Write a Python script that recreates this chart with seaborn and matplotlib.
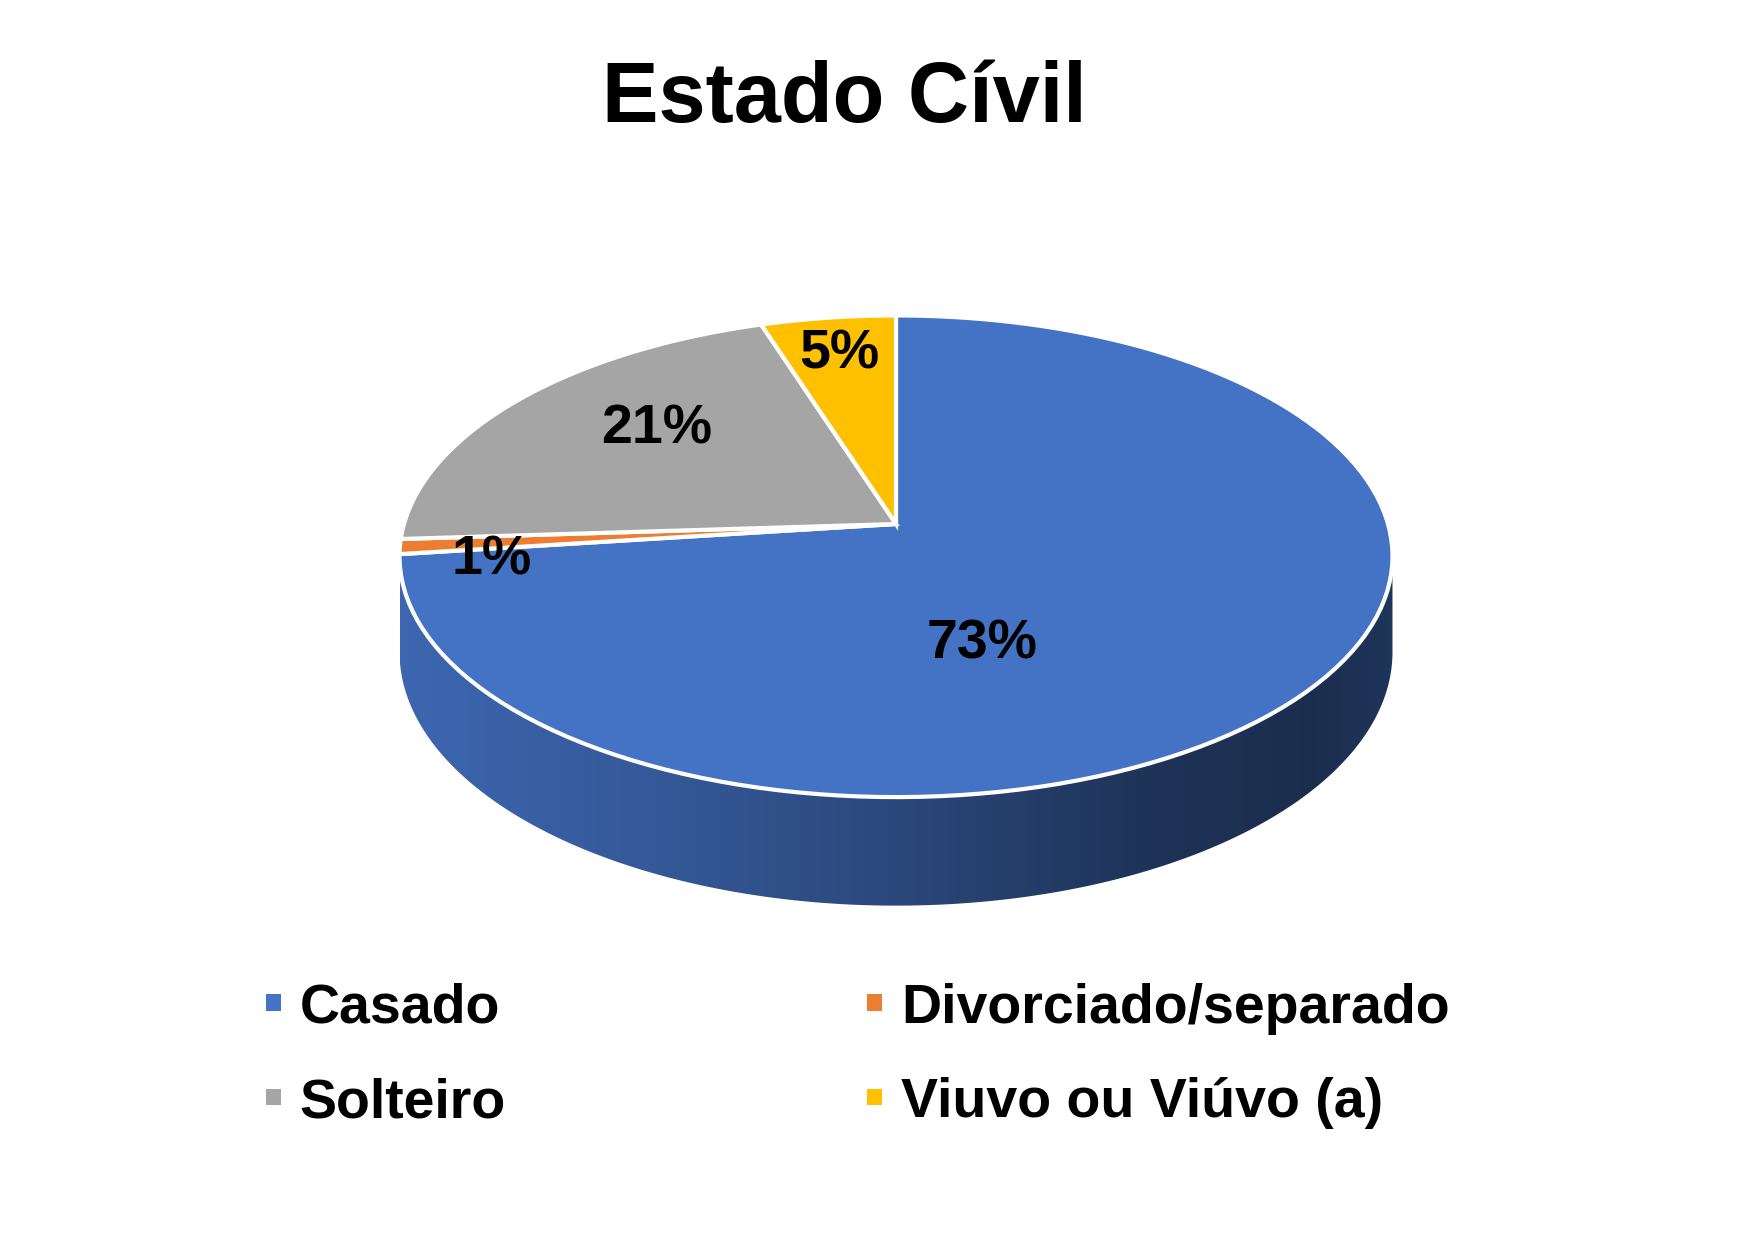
import numpy as np
import matplotlib
matplotlib.use("Agg")
import matplotlib.pyplot as plt
import seaborn as sns
from matplotlib.patches import Polygon, Patch
from matplotlib.colors import to_rgb
from matplotlib.transforms import Transform, Affine2D
from matplotlib.path import Path

# ---- data ----
categories = ["Casado", "Divorciado/separado", "Solteiro", "Viuvo ou Viúvo (a)"]
shares = [73, 1, 21, 5]
colors = ["#4472C4", "#ED7D31", "#A5A5A5", "#FFC000"]
title = "Estado Cívil"

sns.set_theme(style="white")
plt.rcParams["font.family"] = ["Liberation Sans", "DejaVu Sans"]
plt.rcParams["text.color"] = "black"

W, H, DPI = 1749, 1241, 100
fig = plt.figure(figsize=(W / DPI, H / DPI), dpi=DPI)
fig.patch.set_facecolor("white")
ax = fig.add_axes([0, 0, 1, 1])


class PieTilt(Transform):
    """Perspective tilt of the unit pie into pixel coordinates."""
    input_dims = output_dims = 2
    is_separable = False

    def __init__(self, cx, cy, a, s, p):
        super().__init__()
        self.cx, self.cy, self.a, self.s, self.p = cx, cy, a, s, p

    def transform_non_affine(self, values):
        v = np.asarray(values, float).reshape(-1, 2)
        X, Y = v[:, 0], v[:, 1]
        den = 1 + self.p * Y
        return np.column_stack([self.cx + self.a * X / den,
                                self.cy - self.s * Y / den])

    def transform_path_non_affine(self, path):
        k = 1000.0
        polys = path.to_polygons(transform=Affine2D().scale(k), closed_only=True)
        paths = [Path(self.transform_non_affine(np.asarray(pg) / k), closed=True)
                 for pg in polys]
        return Path.make_compound_path(*paths)


# geometry (pixels)
cx, cy, a_px, s_px, p = 896, 524, 492, 236.5, 0.134
depth_px = 94
tilt = PieTilt(cx, cy, a_px, s_px, p)

wedges, texts, autotexts = ax.pie(
    shares, colors=colors, startangle=90, counterclock=False,
    autopct="%1.0f%%", pctdistance=0.6,
    wedgeprops=dict(edgecolor="white", linewidth=3, zorder=3),
    textprops=dict(fontsize=40, fontweight="bold", color="black"))
for w in wedges:
    w.set_transform(tilt + ax.transData)

# side wall (extrusion) of the 3D pie, visible front arc only
tang = np.degrees(np.arcsin(p))
vis_lo, vis_hi = -180 + tang, -tang
x_left = cx - a_px / np.sqrt(1 - p ** 2)
x_right = cx + a_px / np.sqrt(1 - p ** 2)
xs = np.linspace(0, 1, 400)
shade = np.interp(xs, [0, 0.25, 0.5, 0.75, 0.92, 1.0],
                  [0.90, 0.78, 0.63, 0.45, 0.40, 0.46])
for w, c in zip(wedges, colors):
    for shift in (0, 360, -360):
        lo = max(w.theta1 + shift, vis_lo)
        hi = min(w.theta2 + shift, vis_hi)
        if hi <= lo:
            continue
        t = np.radians(np.linspace(lo, hi, 300))
        top = tilt.transform(np.column_stack([np.cos(t), np.sin(t)]))
        den = 1 + p * np.sin(t)
        bot = (top + np.column_stack([np.zeros_like(t), depth_px / den]))[::-1]
        poly = Polygon(np.vstack([top, bot]), closed=True,
                       transform=ax.transData, facecolor="none",
                       edgecolor="none")
        img = np.array(to_rgb(c))[None, None, :] * shade[None, :, None]
        img = np.repeat(img, 2, axis=0)
        im = ax.imshow(img, extent=[x_left, x_right, H, 0], aspect="auto",
                       zorder=1, interpolation="bilinear")
        im.set_clip_path(poly)

# percentage labels (positions in pie coordinates)
label_xy = [(0.163, -0.477), (-0.806, -0.153), (-0.515, 0.424), (-0.128, 0.793)]
for t, xy in zip(autotexts, label_xy):
    t.set_position(xy)
    t.set_transform(tilt + ax.transData)
    t.set_zorder(5)
for t in texts:
    t.set_visible(False)

ax.set_xlim(0, W)
ax.set_ylim(H, 0)
ax.set_aspect("auto")
ax.axis("off")

# title
fig.text(844 / W, 1 - 122 / H, title, ha="center", va="baseline",
         fontsize=61, fontweight="bold", color="black")

# legend
handles = [Patch(facecolor=c, edgecolor="none", label=l)
           for l, c in zip(categories, colors)]
order = [0, 2, 1, 3]
fig.legend([handles[i] for i in order], [categories[i] for i in order],
           ncol=2, loc="center left", bbox_to_anchor=(266 / W, 1 - 1056 / H),
           frameon=False, prop=dict(size=40, weight="bold"), labelcolor="black",
           handlelength=0.27, handleheight=0.07, handletextpad=0.34,
           columnspacing=6.5, labelspacing=0.76, borderpad=0, borderaxespad=0)

fig.savefig("out.png", dpi=DPI, facecolor="white")
